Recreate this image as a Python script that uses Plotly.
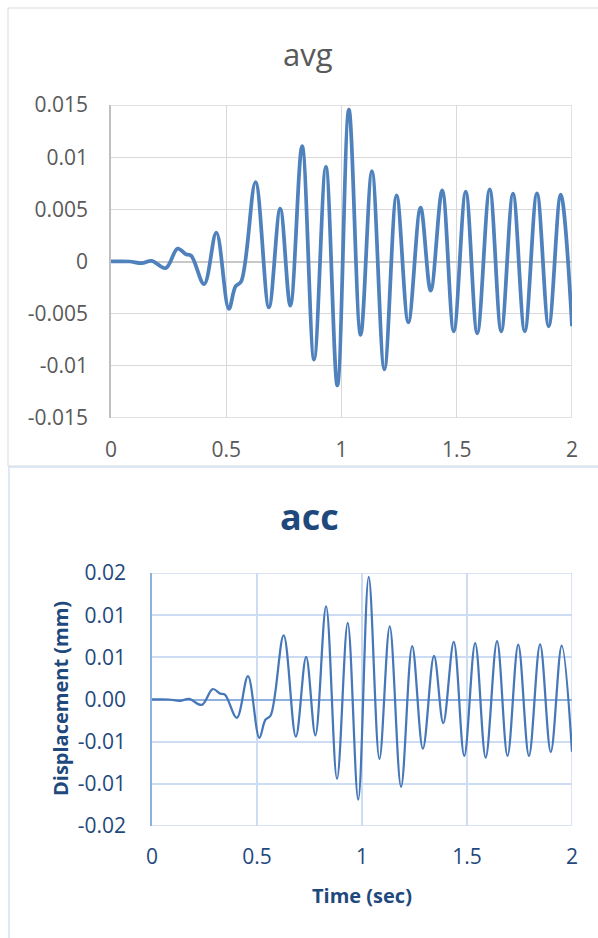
import plotly.graph_objects as go

# Displacement time history (sec, mm)
time_sec = [
    0.0, 0.08, 0.133, 0.177, 0.237, 0.289, 0.325, 0.348, 0.404, 0.457,
    0.511, 0.540, 0.565, 0.627, 0.685, 0.734, 0.778, 0.829, 0.881, 0.932,
    0.982, 1.032, 1.083, 1.132, 1.186, 1.239, 1.290, 1.343, 1.387, 1.437,
    1.487, 1.539, 1.589, 1.643, 1.693, 1.744, 1.795, 1.848, 1.899, 1.951,
    2.0,
]
displacement_mm = [
    0.0, 0.0, -0.00016, 0.00006, -0.00064, 0.00124, 0.0007, 0.00055, -0.00217, 0.00277,
    -0.00455, -0.0024, -0.0019, 0.00761, -0.0044, 0.00506, -0.00424, 0.01105, -0.0094, 0.00908,
    -0.01188, 0.01455, -0.00704, 0.00866, -0.01035, 0.00634, -0.00583, 0.00516, -0.0028, 0.00682,
    -0.00669, 0.00669, -0.00688, 0.00691, -0.00669, 0.0065, -0.00669, 0.00653, -0.00621, 0.0064,
    -0.0062,
]

y_tick_vals = [0.015, 0.01, 0.005, 0.0, -0.005, -0.01, -0.015]
avg_tick_text = ["0.015", "0.01", "0.005", "0", "-0.005", "-0.01", "-0.015"]
acc_tick_text = ["0.02", "0.01", "0.01", "0.00", "-0.01", "-0.01", "-0.02"]
x_tick_vals = [0, 0.5, 1, 1.5, 2]
x_tick_text = ["0", "0.5", "1", "1.5", "2"]

W, H = 598, 938
FONT = "Open Sans"
GRAY_TXT = "#595959"
NAVY = "#1F497D"
GRID_GRAY = "#D9D9D9"
GRID_BLUE = "#CCDCF2"


def fx(p):
    return p / W


def fy(p):
    return 1 - p / H


fig = go.Figure()

fig.add_trace(go.Scatter(
    x=time_sec, y=displacement_mm, mode="lines",
    line=dict(color="#4F81BD", width=3.75, shape="spline", smoothing=1.0),
    xaxis="x", yaxis="y", showlegend=False, hoverinfo="skip",
))
fig.add_trace(go.Scatter(
    x=time_sec, y=displacement_mm, mode="lines",
    line=dict(color="#4677B8", width=2.25, shape="spline", smoothing=1.0),
    xaxis="x2", yaxis="y2", showlegend=False, hoverinfo="skip",
))


def edge_lines(xr, yr, color, width):
    """Frame the plot area's top, right and bottom edges in the grid colour."""
    return [
        dict(type="line", xref=xr, yref=yr, x0=0, x1=2, y0=0.015, y1=0.015,
             line=dict(color=color, width=width), layer="below"),
        dict(type="line", xref=xr, yref=yr, x0=2, x1=2, y0=-0.015, y1=0.015,
             line=dict(color=color, width=width), layer="below"),
        dict(type="line", xref=xr, yref=yr, x0=0, x1=2, y0=-0.015, y1=-0.015,
             line=dict(color=color, width=width), layer="below"),
    ]


fig.update_layout(
    width=W, height=H,
    margin=dict(l=0, r=0, t=0, b=0),
    paper_bgcolor="white", plot_bgcolor="white",
    font=dict(family=FONT),
    # avg panel
    xaxis=dict(
        domain=[fx(111), fx(572)], anchor="y", range=[0, 2],
        tickvals=x_tick_vals, ticktext=x_tick_text,
        showgrid=True, gridcolor=GRID_GRAY, gridwidth=1,
        zeroline=False, showline=False, ticks="", automargin=False,
        tickfont=dict(size=21, color=GRAY_TXT), ticklabelstandoff=17,
    ),
    yaxis=dict(
        domain=[fy(418), fy(105)], anchor="x", range=[-0.015, 0.015],
        tickvals=y_tick_vals, ticktext=avg_tick_text,
        showgrid=True, gridcolor=GRID_GRAY, gridwidth=1,
        zeroline=True, zerolinecolor="#C8C8C8", zerolinewidth=1.5,
        showline=True, linecolor="#BFBFBF", linewidth=1.5, ticks="",
        automargin=False,
        tickfont=dict(size=21, color=GRAY_TXT), ticklabelstandoff=17,
    ),
    # acc panel
    xaxis2=dict(
        domain=[fx(152), fx(572)], anchor="y2", range=[0, 2],
        tickvals=x_tick_vals, ticktext=x_tick_text,
        showgrid=True, gridcolor=GRID_BLUE, gridwidth=1.5,
        zeroline=False, showline=False, ticks="", automargin=False,
        tickfont=dict(size=21, color=NAVY), ticklabelstandoff=16,
    ),
    yaxis2=dict(
        domain=[fy(826), fy(573)], anchor="x2", range=[-0.015, 0.015],
        tickvals=y_tick_vals, ticktext=acc_tick_text,
        showgrid=True, gridcolor=GRID_BLUE, gridwidth=1.5,
        zeroline=True, zerolinecolor="#8EB1DE", zerolinewidth=1.5,
        showline=True, linecolor="#8EB1DE", linewidth=1.5, ticks="",
        automargin=False,
        tickfont=dict(size=21, color=NAVY), ticklabelstandoff=20,
    ),
    shapes=[
        dict(type="rect", xref="paper", yref="paper",
             x0=fx(8), x1=1.02, y0=fy(466), y1=fy(8),
             line=dict(color="#D9D9D9", width=1), layer="below"),
        dict(type="rect", xref="paper", yref="paper",
             x0=fx(9), x1=1.02, y0=-0.02, y1=fy(467),
             line=dict(color="#D5E1F3", width=1.5), layer="below"),
    ] + edge_lines("x", "y", GRID_GRAY, 1.5) + edge_lines("x2", "y2", GRID_BLUE, 1.5),
    annotations=[
        dict(text="avg", xref="paper", yref="paper", x=fx(308), y=fy(54),
             xanchor="center", yanchor="middle", showarrow=False,
             font=dict(family=FONT, size=31, color=GRAY_TXT)),
        dict(text="acc", xref="paper", yref="paper", x=fx(309), y=fy(516),
             xanchor="center", yanchor="middle", showarrow=False,
             font=dict(family=FONT, size=36, color=NAVY, weight=700)),
        dict(text="Time (sec)", xref="paper", yref="paper", x=fx(362), y=fy(895),
             xanchor="center", yanchor="middle", showarrow=False,
             font=dict(family=FONT, size=20, color=NAVY, weight=700)),
        dict(text="Displacement (mm)", xref="paper", yref="paper", x=fx(60), y=fy(699),
             xanchor="center", yanchor="middle", showarrow=False, textangle=-90,
             font=dict(family=FONT, size=20, color=NAVY, weight=700)),
    ],
)

fig.write_html("out.html")
